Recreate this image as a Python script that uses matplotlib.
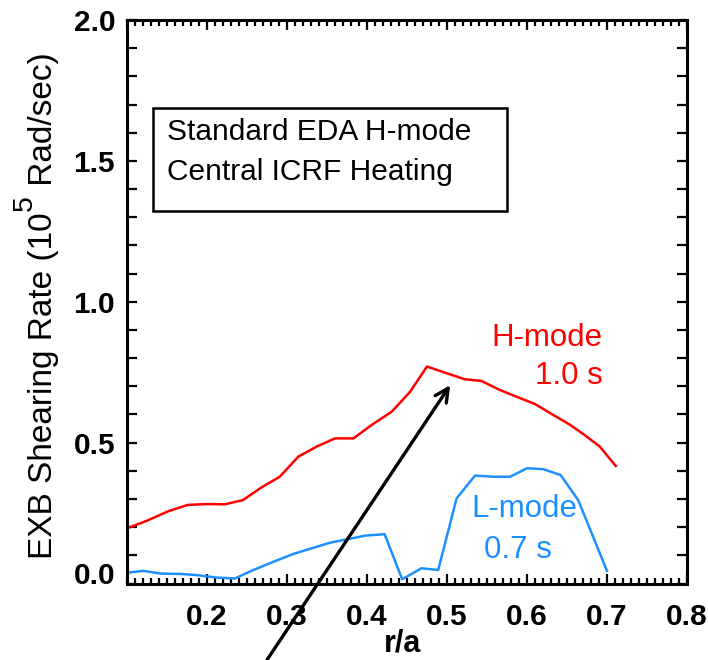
import matplotlib
matplotlib.use("Agg")
import matplotlib.pyplot as plt
from matplotlib.patches import Rectangle
from matplotlib.ticker import MultipleLocator, FixedLocator
from matplotlib.transforms import IdentityTransform

plt.rcParams['font.family'] = ['Liberation Sans', 'DejaVu Sans']

# H-mode (1.0 s) shearing-rate profile
h_r = [0.100, 0.125, 0.152, 0.176, 0.200, 0.222, 0.245, 0.268, 0.291, 0.314,
       0.337, 0.360, 0.383, 0.406, 0.431, 0.454, 0.475, 0.500, 0.522, 0.543,
       0.566, 0.587, 0.610, 0.633, 0.654, 0.672, 0.691, 0.711]
h_rate = [0.196, 0.223, 0.257, 0.279, 0.282, 0.281, 0.296, 0.341, 0.379, 0.450,
          0.486, 0.515, 0.515, 0.563, 0.610, 0.681, 0.770, 0.746, 0.725, 0.719,
          0.687, 0.663, 0.637, 0.598, 0.563, 0.527, 0.486, 0.417]

# L-mode (0.7 s) shearing-rate profile
l_r = [0.100, 0.120, 0.143, 0.166, 0.187, 0.212, 0.235, 0.258, 0.283, 0.308,
       0.331, 0.354, 0.377, 0.398, 0.422, 0.444, 0.468, 0.489, 0.512, 0.535,
       0.558, 0.579, 0.600, 0.620, 0.642, 0.664, 0.700]
l_rate = [0.038, 0.045, 0.035, 0.034, 0.030, 0.021, 0.018, 0.048, 0.077, 0.105,
          0.125, 0.145, 0.158, 0.170, 0.175, 0.015, 0.054, 0.048, 0.302, 0.383,
          0.379, 0.379, 0.409, 0.406, 0.385, 0.296, 0.045]

x_ticks = [0.2, 0.3, 0.4, 0.5, 0.6, 0.7, 0.8]
x_tick_labels = ['0.2', '0.3', '0.4', '0.5', '0.6', '0.7', '0.8']
y_ticks = [0.0, 0.5, 1.0, 1.5, 2.0]
y_tick_labels = ['0.0', '0.5', '1.0', '1.5', '2.0']

RED = '#ff0000'
BLUE = '#1e8fff'

W, H = 708, 660
fig = plt.figure(figsize=(W / 100, H / 100), dpi=100)
ax = fig.add_axes([0.1794, 0.1159, 0.7909, 0.8538])

ax.plot(h_r, h_rate, color=RED, lw=1.8)
ax.plot(l_r, l_rate, color=BLUE, lw=1.8)

ax.set_xlim(0.1, 0.8)
ax.set_ylim(0.0, 2.0)

ax.xaxis.set_major_locator(FixedLocator(x_ticks))
ax.set_xticklabels(x_tick_labels)
ax.xaxis.set_minor_locator(MultipleLocator(0.01))
ax.yaxis.set_major_locator(FixedLocator(y_ticks))
ax.set_yticklabels(y_tick_labels)
ax.yaxis.set_minor_locator(MultipleLocator(0.1))

for side in ax.spines.values():
    side.set_linewidth(2.2)

ax.tick_params(axis='both', which='both', direction='in', top=True, right=True,
               width=1.6, labelsize=21.5)
ax.tick_params(axis='x', which='major', length=7.5, pad=14)
ax.tick_params(axis='x', which='minor', length=4.5)
ax.tick_params(axis='y', which='both', length=7.5, pad=8.5)
for lab in ax.get_xticklabels() + ax.get_yticklabels():
    lab.set_fontweight('bold')
ax.get_yticklabels()[0].set_va('baseline')

# x-axis title, placed in pixel coordinates near the bottom edge
fig.text(403, H - 652, 'r/a', fontsize=22, fontweight='bold', ha='center',
         va='baseline', transform=IdentityTransform())

# Rotated y-axis title built from pieces so the exponent sits high and large
fig.canvas.draw()
renderer = fig.canvas.get_renderer()
ylab_fs = 24
base_x = 52
raise_px = 20
pieces = [('EXB Shearing Rate (10', 0, ylab_fs),
          ('5', raise_px, ylab_fs * 0.85),
          (' Rad/sec)', 0, ylab_fs)]
texts = []
y_cur = 0.0
for s, dx, fs in pieces:
    t = fig.text(base_x - dx, y_cur, s, rotation=90, rotation_mode='anchor',
                 ha='left', va='baseline', fontsize=fs,
                 transform=IdentityTransform())
    bb = t.get_window_extent(renderer)
    y_cur = bb.y1 + 1
    texts.append(t)
total = y_cur
centre = H - 305
shift = centre - total / 2
for t in texts:
    x0, y0 = t.get_position()
    t.set_position((x0, y0 + shift))

# Annotation box with run conditions
ax.add_patch(Rectangle((0.0464, 0.661), 0.6322, 0.1828, transform=ax.transAxes,
                       fill=False, ec='black', lw=1.8))
ax.text(0.0714, 0.801, 'Standard EDA H-mode', transform=ax.transAxes,
        fontsize=21.5, va='center', ha='left')
ax.text(0.0714, 0.730, 'Central ICRF Heating', transform=ax.transAxes,
        fontsize=21.5, va='center', ha='left')

# Curve labels
ax.text(0.850, 0.4357, 'H-mode', transform=ax.transAxes, color=RED,
        fontsize=22.5, ha='right', va='center')
ax.text(0.850, 0.368, '1.0 s', transform=ax.transAxes, color=RED,
        fontsize=22.5, ha='right', va='center')
ax.text(0.7098, 0.132, 'L-mode', transform=ax.transAxes, color=BLUE,
        fontsize=22.5, ha='center', va='center')
ax.text(0.6973, 0.0594, '0.7 s', transform=ax.transAxes, color=BLUE,
        fontsize=22.5, ha='center', va='center')

# Arrow pointing up toward the H-mode peak region
ax.annotate('', xy=(0.504, 0.704), xytext=(0.275, -0.271),
            xycoords='data', textcoords='data', annotation_clip=False,
            arrowprops=dict(arrowstyle='->', lw=2.4, color='black',
                            mutation_scale=24, shrinkA=0, shrinkB=0))

fig.savefig('out.png', dpi=100)
